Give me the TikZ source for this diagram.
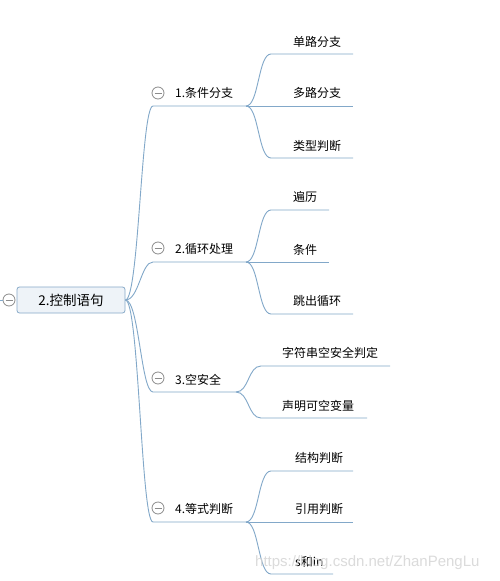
\documentclass[tikz,border=0pt]{standalone}
\usepackage{fontspec}
\setmainfont{Noto Sans CJK SC}
\newfontfamily\wmfont{Liberation Sans}
\definecolor{lineblue}{HTML}{82A8C9}
\definecolor{rootfill}{HTML}{EEF3F8}
\definecolor{rootborder}{HTML}{86A9C8}
\definecolor{togglegray}{HTML}{8C8C8C}
\begin{document}
\begin{tikzpicture}[x=1pt,y=-1pt,
  line/.style={draw=lineblue, line width=0.9pt},
  lbl/.style={anchor=west, inner sep=0pt, font=\fontsize{12}{14}\selectfont},
  toggle/.style={circle, draw=togglegray, fill=white, minimum size=12pt, inner sep=0pt, line width=0.8pt,
    path picture={\draw[togglegray, line width=0.8pt] ([xshift=-3.5pt]path picture bounding box.center) -- ([xshift=3.5pt]path picture bounding box.center);}},
  rootbox/.style={draw=rootborder, fill=rootfill, rounded corners=2.5pt, line width=0.8pt, minimum width=108pt, minimum height=26pt, inner sep=0pt, font=\fontsize{13.5}{16}\selectfont}]
\fill[white] (0,0) rectangle (500,581);
\useasboundingbox (0,0) rectangle (500,581);

% root
\node[rootbox] (root) at (71,300) {2.控制语句};
\node[toggle] (rt) at (9,300) {};
\coordinate (lft) at (0,300);
\draw[line] (lft) -- (rt.west);

% branch 1
\coordinate (b1s) at (153,106); \coordinate (b1e) at (246,106);
\node[toggle] (t1) at (158,93) {};
\node[lbl] (b1) at (175,93) {1.条件分支};
\draw[line] (root.east) .. controls (139,300) and (141,106) .. (b1s) -- (b1e);
\coordinate (c11s) at (271,54); \coordinate (c11e) at (353,54);
\node[lbl] (c11) at (293,42) {单路分支};
\draw[line] (b1e) .. controls (259,106) and (258,54) .. (c11s) -- (c11e);
\coordinate (c12e) at (353,106);
\node[lbl] (c12) at (293,93) {多路分支};
\draw[line] (b1e) -- (c12e);
\coordinate (c13s) at (271,158); \coordinate (c13e) at (353,158);
\node[lbl] (c13) at (293,146) {类型判断};
\draw[line] (b1e) .. controls (259,106) and (258,158) .. (c13s) -- (c13e);

% branch 2
\coordinate (b2s) at (153,262); \coordinate (b2e) at (246,262);
\node[toggle] (t2) at (158,248) {};
\node[lbl] (b2) at (175,249) {2.循环处理};
\draw[line] (root.east) .. controls (139,300) and (141,262) .. (b2s) -- (b2e);
\coordinate (c21s) at (271,210); \coordinate (c21e) at (329,210);
\node[lbl] (c21) at (293,197) {遍历};
\draw[line] (b2e) .. controls (259,262) and (258,210) .. (c21s) -- (c21e);
\coordinate (c22e) at (329,262);
\node[lbl] (c22) at (293,250) {条件};
\draw[line] (b2e) -- (c22e);
\coordinate (c23s) at (271,314); \coordinate (c23e) at (353,314);
\node[lbl] (c23) at (293,301) {跳出循环};
\draw[line] (b2e) .. controls (259,262) and (258,314) .. (c23s) -- (c23e);

% branch 3
\coordinate (b3s) at (153,392); \coordinate (b3e) at (236,392);
\node[toggle] (t3) at (158,378) {};
\node[lbl] (b3) at (175,380) {3.空安全};
\draw[line] (root.east) .. controls (139,300) and (141,392) .. (b3s) -- (b3e);
\coordinate (c31s) at (261,366); \coordinate (c31e) at (390,366);
\node[lbl] (c31) at (282,353) {字符串空安全判定};
\draw[line] (b3e) .. controls (249,392) and (248,366) .. (c31s) -- (c31e);
\coordinate (c32s) at (261,418); \coordinate (c32e) at (367,418);
\node[lbl] (c32) at (282,406) {声明可空变量};
\draw[line] (b3e) .. controls (249,392) and (248,418) .. (c32s) -- (c32e);

% branch 4
\coordinate (b4s) at (153,522); \coordinate (b4e) at (246,522);
\node[toggle] (t4) at (158,508) {};
\node[lbl] (b4) at (175,509) {4.等式判断};
\draw[line] (root.east) .. controls (139,300) and (141,522) .. (b4s) -- (b4e);
\coordinate (c41s) at (271,471); \coordinate (c41e) at (353,471);
\node[lbl] (c41) at (295,458) {结构判断};
\draw[line] (b4e) .. controls (259,522) and (258,471) .. (c41s) -- (c41e);
\coordinate (c42e) at (353,522);
\node[lbl] (c42) at (295,509) {引用判断};
\draw[line] (b4e) -- (c42e);
\coordinate (c43s) at (271,574); \coordinate (c43e) at (333,574);
\node[lbl] (c43) at (295,562) {s和in};
\draw[line] (b4e) .. controls (259,522) and (258,574) .. (c43s) -- (c43e);

% watermark
\node[anchor=west, inner sep=0pt, text=gray!35, opacity=0.8, font=\wmfont\fontsize{15}{17}\selectfont] (wm) at (255,563) {https://blog.csdn.net/ZhanPengLu};
\end{tikzpicture}
\end{document}
